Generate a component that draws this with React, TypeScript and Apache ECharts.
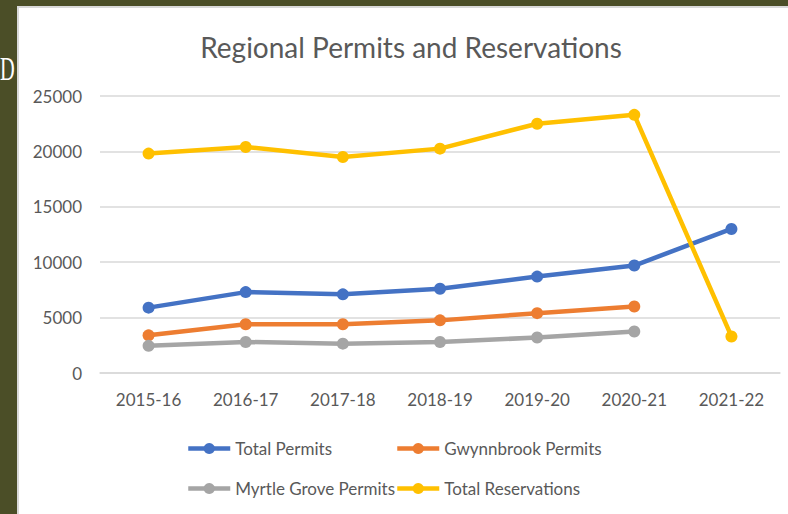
import React, { useEffect, useRef } from "react";
import * as echarts from "echarts";

const categories = ["2015-16", "2016-17", "2017-18", "2018-19", "2019-20", "2020-21", "2021-22"];
const totalPermits = [5900, 7300, 7100, 7600, 8700, 9700, 13000];
const gwynnbrookPermits = [3400, 4400, 4400, 4750, 5400, 6000, null];
const myrtleGrovePermits = [2450, 2800, 2650, 2800, 3200, 3750, null];
const totalReservations = [19800, 20400, 19500, 20250, 22500, 23300, 3300];
const yTicks = { min: 0, max: 25000, interval: 5000 };

const FONT = "Lato";
const TXT = "#595959";

export default function App() {
  const ref = useRef<HTMLDivElement>(null);
  useEffect(() => {
    document.body.style.margin = "0";
    const chart = echarts.init(ref.current!, null, { renderer: "svg" });
    const mk = (name: string, data: (number | null)[], color: string) => ({
      name,
      type: "line",
      data,
      color,
      symbol: "circle",
      symbolSize: 12,
      lineStyle: { width: 4.5, color },
      itemStyle: { color },
      connectNulls: false,
      z: 3,
    });
    const legendBase = {
      itemWidth: 42,
      itemHeight: 14,
      padding: 0,
      lineStyle: { width: 4.5 },
      textStyle: { color: TXT, fontSize: 17, fontFamily: FONT },
    };
    chart.setOption({
      animation: false,
      backgroundColor: "#4b4e27",
      textStyle: { fontFamily: FONT },
      graphic: [
        {
          type: "rect",
          shape: { x: 18, y: 7, width: 780, height: 520 },
          style: { fill: "#ffffff", stroke: "#d9d9d9", lineWidth: 2 },
          z: -10,
          silent: true,
        },
        {
          type: "text",
          x: 0,
          y: 68,
          scaleX: 0.6,
          style: {
            text: "D",
            fill: "#ffffff",
            font: "34px 'Liberation Serif'",
            textAlign: "left",
            textVerticalAlign: "middle",
          },
          z: -5,
        },
      ],
      title: {
        text: "Regional Permits and Reservations",
        left: 411,
        top: 33,
        padding: 0,
        textAlign: "center",
        textStyle: { color: TXT, fontSize: 28, fontWeight: "normal", fontFamily: FONT },
      },
      legend: [
        { ...legendBase, data: ["Total Permits"], left: 186, top: 440 },
        { ...legendBase, data: ["Gwynnbrook Permits"], left: 395, top: 440 },
        { ...legendBase, data: ["Myrtle Grove Permits"], left: 186, top: 480 },
        { ...legendBase, data: ["Total Reservations"], left: 395, top: 480 },
      ],
      grid: { left: 100, right: 8, top: 96, height: 277 },
      xAxis: {
        type: "category",
        data: categories,
        boundaryGap: true,
        axisLine: { show: true, lineStyle: { color: "#d9d9d9", width: 1.5 } },
        axisTick: { show: false },
        axisLabel: { color: TXT, fontSize: 17, fontFamily: FONT, margin: 18 },
      },
      yAxis: {
        type: "value",
        ...yTicks,
        axisLine: { show: false },
        axisTick: { show: false },
        splitLine: { lineStyle: { color: "#d9d9d9", width: 1.5 } },
        axisLabel: {
          color: TXT,
          fontSize: 17,
          fontFamily: FONT,
          margin: 18,
          formatter: (v: number) => String(v),
        },
      },
      series: [
        mk("Total Permits", totalPermits, "#4472C4"),
        mk("Gwynnbrook Permits", gwynnbrookPermits, "#ED7D31"),
        mk("Myrtle Grove Permits", myrtleGrovePermits, "#A5A5A5"),
        mk("Total Reservations", totalReservations, "#FFC000"),
      ],
    });
    return () => chart.dispose();
  }, []);
  return <div ref={ref} style={{ position: "fixed", left: 0, top: 0, width: 788, height: 514 }} />;
}
